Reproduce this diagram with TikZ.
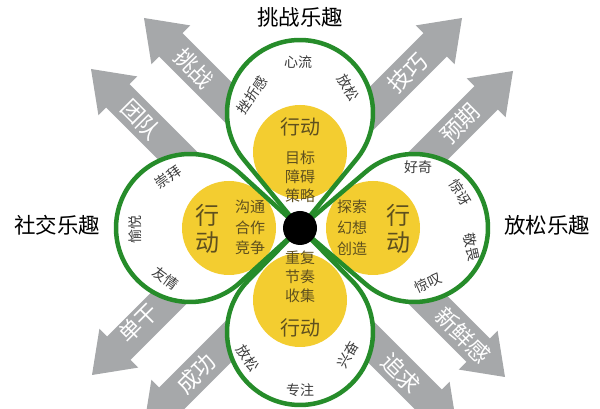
\documentclass[tikz,border=0pt]{standalone}
\usepackage{fontspec}
\setmainfont{Noto Sans CJK SC}
\definecolor{arrowgray}{RGB}{166,168,170}
\definecolor{petalgreen}{RGB}{38,140,42}
\definecolor{flower}{RGB}{243,205,48}
\definecolor{innertext}{RGB}{95,80,30}
\definecolor{outertext}{RGB}{60,60,60}
\newcommand\petalshape[4]{%
  \pgfmathsetmacro\pa{asin(#4/#3)}%
  \pgfmathsetmacro\pl{sqrt(#3*#3-#4*#4)}%
  \path[#1, shift={(C)}, rotate=#2] (0,0) -- (90+\pa:\pl) arc[start angle=180+\pa, end angle=-\pa, radius=#4] -- cycle;}
\newcommand\grayarrow[3]{%
  \fill[arrowgray, shift={#1}, rotate=#2] (0,0) -- (-38,27.5) -- (-38,16.5) -- (-#3,16.5) -- (-#3,-16.5) -- (-38,-16.5) -- (-38,-27.5) -- cycle;}
\begin{document}
\begin{tikzpicture}[x=1pt,y=1pt,
  title/.style={font=\fontsize{21.5}{21.5}\selectfont, text=black},
  arrowlabel/.style={font=\fontsize{22.5}{22.5}\selectfont, text=white},
  petalword/.style={font=\fontsize{14}{14}\selectfont, text=outertext},
  actbig/.style={font=\fontsize{20}{20}\selectfont, text=innertext},
  actside/.style={font=\fontsize{24}{24}\selectfont, text=innertext},
  inword/.style={font=\fontsize{15}{15}\selectfont, text=innertext},
  greenline/.style={draw=petalgreen, line width=4.5pt, line join=round}]
\useasboundingbox (0,0) rectangle (600,409);
\fill[white] (0,0) rectangle (600,409);
\coordinate (C) at (300,181);
% arrows
\grayarrow{(144,391)}{135}{150}
\grayarrow{(91,340)}{135}{150}
\grayarrow{(462,391)}{45}{150}
\grayarrow{(513,338)}{45}{150}
\grayarrow{(92,34)}{225}{150}
\grayarrow{(144,-17)}{225}{150}
\grayarrow{(505,32)}{315}{150}
\grayarrow{(457,-19)}{315}{150}
% petal fills
\petalshape{fill=white}{0}{115}{73}
\petalshape{fill=white}{90}{110}{74}
\petalshape{fill=white}{-90}{114}{74}
\petalshape{fill=white}{180}{104}{73}
% yellow circles
\fill[flower] (300,257) circle[radius=47];
\fill[flower] (229,181) circle[radius=47];
\fill[flower] (373,181) circle[radius=47];
\fill[flower] (300,109) circle[radius=47];
% petal outlines
\petalshape{greenline}{0}{115}{73}
\petalshape{greenline}{90}{110}{74}
\petalshape{greenline}{-90}{114}{74}
\petalshape{greenline}{180}{104}{73}
% centre dot
\fill[black] (C) circle[radius=17];
% titles
\node[title] (t1) at (300,392) {挑战乐趣};
\node[title] (t2) at (57,184) {社交乐趣};
\node[title] (t3) at (547,184) {放松乐趣};
% arrow labels
\node[arrowlabel, rotate=-45] (l1) at (194,341) {挑战};
\node[arrowlabel, rotate=-45] (l2) at (141,290) {团队};
\node[arrowlabel, rotate=45] (l3) at (407,336) {技巧};
\node[arrowlabel, rotate=45] (l4) at (460,285) {预期};
\node[arrowlabel, rotate=45] (l5) at (138,86) {单干};
\node[arrowlabel, rotate=45] (l6) at (196,35) {成功};
\node[arrowlabel, rotate=-45] (l7) at (463,74) {新鲜感};
\node[arrowlabel, rotate=-45] (l8) at (401,36) {追求};
% petal words
\node[petalword, rotate=55] (p1) at (252,314) {挫折感};
\node[petalword] (p2) at (298,347) {心流};
\node[petalword, rotate=-58] (p3) at (348,321) {放松};
\node[petalword, rotate=35] (p4) at (168,232) {崇拜};
\node[petalword, rotate=90] (p5) at (135,179) {愉悦};
\node[petalword, rotate=-36] (p6) at (166,131) {友情};
\node[petalword] (p7) at (418,242) {好奇};
\node[petalword, rotate=-58] (p8) at (460,216) {惊讶};
\node[petalword, rotate=-78] (p9) at (472,162) {敬畏};
\node[petalword, rotate=24] (p10) at (428,126) {惊叹};
\node[petalword, rotate=-55] (p11) at (248,51) {放松};
\node[petalword] (p12) at (300,19) {专注};
\node[petalword, rotate=60] (p13) at (348,54) {兴奋};
% inner texts top
\node[actbig] (i1) at (300,282) {行动};
\node[inword] (i2) at (300,251) {目标};
\node[inword] (i3) at (300,232) {障碍};
\node[inword] (i4) at (300,213) {策略};
% left
\node[actside] (i5) at (207,194) {行};
\node[actside] (i6) at (207,166) {动};
\node[inword] (i7) at (250,202) {沟通};
\node[inword] (i8) at (250,181) {合作};
\node[inword] (i9) at (250,161) {竞争};
% right
\node[inword] (i10) at (352,202) {探索};
\node[inword] (i11) at (352,181) {幻想};
\node[inword] (i12) at (352,160) {创造};
\node[actside] (i13) at (398,194) {行};
\node[actside] (i14) at (398,166) {动};
% bottom
\node[inword] (i15) at (300,151) {重复};
\node[inword] (i16) at (300,132) {节奏};
\node[inword] (i17) at (300,113) {收集};
\node[actbig] (i18) at (300,81) {行动};
\end{tikzpicture}
\end{document}
